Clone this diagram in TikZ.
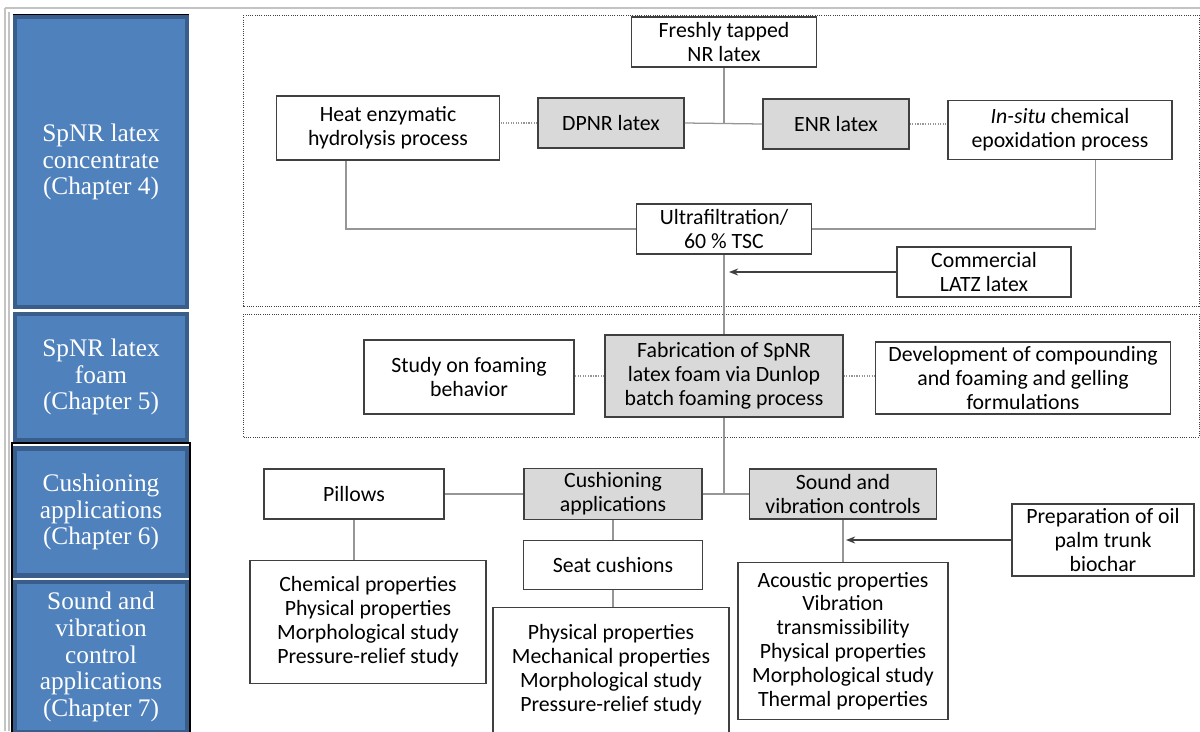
\documentclass[tikz,border=0pt]{standalone}
\usepackage{fontspec}
\setmainfont{Carlito}
\newfontfamily\chapfont{Liberation Serif}
\usetikzlibrary{arrows.meta}

\definecolor{chapblue}{RGB}{79,129,189}
\definecolor{chapedge}{RGB}{58,94,140}
\definecolor{keygrey}{RGB}{217,217,217}
\definecolor{linkgrey}{RGB}{150,150,150}
\definecolor{edgegrey}{RGB}{64,64,64}
\definecolor{framegrey}{RGB}{195,195,195}

\tikzset{
  procbox/.style={draw=edgegrey,line width=1.1pt,fill=white,align=center,
    inner sep=0pt,font=\fontsize{15.5}{17}\selectfont},
  keybox/.style={procbox,fill=keygrey},
  chapbox/.style={draw=chapedge,line width=3pt,fill=chapblue,text=white,
    align=center,inner sep=0pt,minimum width=4.3cm,
    font=\chapfont\fontsize{18}{19}\selectfont},
  link/.style={draw=linkgrey,line width=0.9pt},
  sidelink/.style={draw=linkgrey,line width=0.8pt,densely dotted},
  feed/.style={draw=edgegrey,line width=0.9pt,->},
  stagebox/.style={draw=edgegrey,line width=0.6pt,densely dotted},
}

\begin{document}
\begin{tikzpicture}[x=0.025cm,y=-0.025cm,>={Stealth[length=6.5pt,width=5pt]}]
    \useasboundingbox (0,0) rectangle (1200,731);

    % outer frame
    \draw[framegrey,line width=1.2pt] (5,8) -- (1200,8);
    \draw[framegrey,line width=1.2pt] (5,8) -- (5,731);
    \draw[framegrey,line width=0.8pt] (9,12) -- (9,731);

    % chapter column
    \draw[black,line width=0.8pt] (13,15) -- (189,15);
    \draw[black,line width=0.8pt] (12,740) -- (12,443) -- (190,443) -- (190,740);
    \node[chapbox,minimum height=7.25cm] (ch-four) at (101,162)
        {SpNR latex\\concentrate\\(Chapter 4)};
    \node[chapbox,minimum height=3.15cm] (ch-five) at (101,377)
        {SpNR latex\\foam\\(Chapter 5)};
    \node[chapbox,minimum height=3.17cm] (ch-six) at (101,512)
        {Cushioning\\applications\\(Chapter 6)};
    \node[chapbox,minimum height=3.75cm] (ch-seven) at (101,657)
        {Sound and\\vibration\\control\\applications\\(Chapter 7)};

    % stage frames
    \draw[stagebox] (243,15) rectangle (1199,306);
    \draw[stagebox] (243,314) rectangle (1199,437);

    % latex concentrate
    \node[procbox,minimum width=4.63cm,minimum height=1.25cm]
        (fresh) at (724,42) {Freshly tapped\\NR latex};
    \node[procbox,minimum width=5.58cm,minimum height=1.6cm]
        (heat) at (388,128) {Heat enzymatic\\hydrolysis process};
    \node[keybox,minimum width=3.65cm,minimum height=1.25cm]
        (dpnr) at (611,123) {DPNR latex};
    \node[keybox,minimum width=3.65cm,minimum height=1.25cm]
        (enr) at (836,124) {ENR latex};
    \node[procbox,minimum width=5.6cm,minimum height=1.48cm]
        (insitu) at (1060,130) {\textit{In-situ} chemical\\epoxidation process};
    \node[procbox,minimum width=4.38cm,minimum height=1.25cm]
        (ultra) at (724,229) {Ultrafiltration/\\60 \% TSC};
    \node[procbox,minimum width=4.35cm,minimum height=1.25cm]
        (latz) at (984,272) {Commercial\\LATZ latex};

    \draw[link] (fresh.south) -- (fresh.south |- dpnr.east);
    \draw[link] (dpnr.east) -- (enr.west);
    \draw[sidelink] (dpnr.west) -- (dpnr.west -| heat.east);
    \draw[sidelink] (enr.east) -- (enr.east -| insitu.west);
    \draw[link] ([xshift=-1.05cm]heat.south) |- (ultra.west);
    \draw[link] ([xshift=0.88cm]insitu.south) |- (ultra.east);
    \path (ultra.south |- latz.west) ++(5,0) coordinate (latz-end);
    \draw[feed] (latz.west) -- (latz-end);

    % latex foam
    \node[keybox,minimum width=5.95cm,minimum height=2.05cm]
        (fab) at (724,376)
        {Fabrication of SpNR\\latex foam via Dunlop\\batch foaming process};
    \node[procbox,minimum width=5.25cm,minimum height=1.85cm]
        (study) at (469,377) {Study on foaming\\behavior};
    \node[procbox,minimum width=7.38cm,minimum height=1.8cm]
        (dev) at (1023,378)
        {Development of compounding\\and foaming and gelling\\formulations};

    \draw[link] (ultra.south) -- (fab.north);
    \draw[sidelink] (fab.west) -- (fab.west -| study.east);
    \draw[sidelink] (fab.east) -- (fab.east -| dev.west);

    % applications
    \node[procbox,minimum width=4.5cm,minimum height=1.25cm]
        (pillows) at (354,494) {Pillows};
    \node[keybox,minimum width=4.45cm,minimum height=1.28cm]
        (cush) at (613,494) {Cushioning\\applications};
    \node[keybox,minimum width=4.68cm,minimum height=1.25cm]
        (sound) at (843,494) {Sound and\\vibration controls};
    \node[procbox,minimum width=4.48cm,minimum height=1.23cm]
        (seat) at (613,565) {Seat cushions};
    \node[procbox,minimum width=5.9cm,minimum height=3.08cm]
        (pil-props) at (368,622)
        {Chemical properties\\Physical properties\\Morphological study\\Pressure-relief study};
    \node[procbox,minimum width=5.9cm,minimum height=3.13cm]
        (seat-props) at (611,670)
        {Physical properties\\Mechanical properties\\Morphological study\\Pressure-relief study};
    \node[procbox,minimum width=5.25cm,minimum height=3.93cm]
        (sound-props) at (843,641)
        {Acoustic properties\\Vibration\\transmissibility\\Physical properties\\Morphological study\\Thermal properties};
    \node[procbox,minimum width=4.55cm,minimum height=1.8cm]
        (biochar) at (1103,540) {Preparation of oil\\palm trunk\\biochar};

    \draw[link] (fab.south) -- (fab.south |- cush.east);
    \draw[link] (cush.east) -- (sound.west);
    \draw[link] (pillows.east) -- (cush.west);
    \draw[link] (pillows.south) -- (pillows.south |- pil-props.north);
    \draw[link] (cush.south) -- (seat.north);
    \draw[link] (seat.south) -- (seat.south |- seat-props.north);
    \draw[link] (sound.south) -- (sound-props.north);
    \path (sound.south |- biochar.west) ++(3,0) coordinate (biochar-end);
    \draw[feed] (biochar.west) -- (biochar-end);
\end{tikzpicture}
\end{document}
